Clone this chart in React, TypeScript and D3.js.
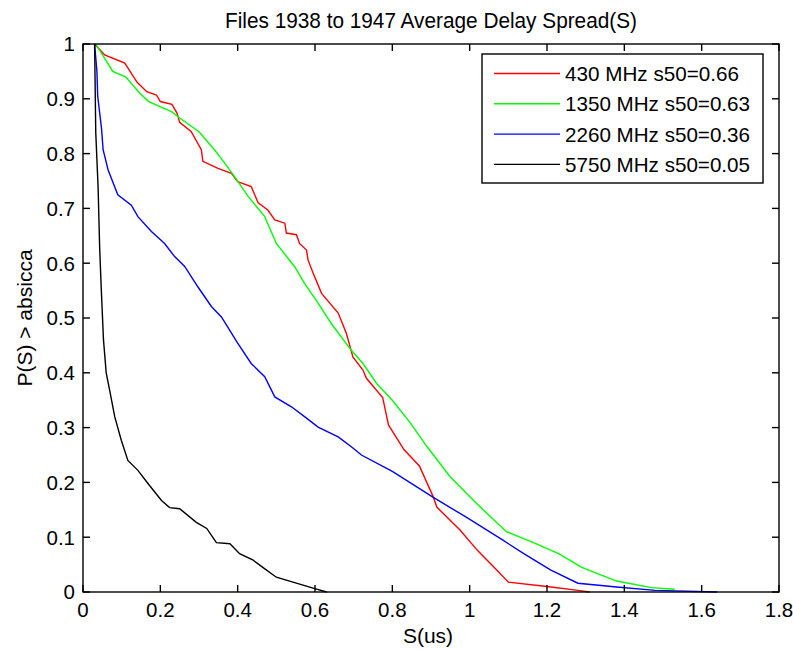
import React from "react";
import * as d3 from "d3";

const seriesNames = ["430 MHz s50=0.66", "1350 MHz s50=0.63", "2260 MHz s50=0.36", "5750 MHz s50=0.05"];
const seriesColors = ["#ff0000", "#00ff00", "#0000ff", "#000000"];

const red430: [number, number][] = [
  [0.03, 1], [0.056, 0.98], [0.108, 0.965], [0.14, 0.93], [0.165, 0.913], [0.19, 0.907], [0.2, 0.895],
  [0.23, 0.89], [0.243, 0.874], [0.25, 0.857], [0.28, 0.84], [0.306, 0.807], [0.31, 0.786], [0.349, 0.773],
  [0.384, 0.764], [0.4, 0.749], [0.435, 0.74], [0.453, 0.71], [0.478, 0.697], [0.496, 0.679], [0.522, 0.673],
  [0.526, 0.655], [0.552, 0.652], [0.56, 0.636], [0.578, 0.624], [0.582, 0.606], [0.595, 0.582],
  [0.617, 0.545], [0.66, 0.509], [0.681, 0.472], [0.698, 0.429], [0.724, 0.405], [0.733, 0.39],
  [0.775, 0.355], [0.79, 0.305], [0.83, 0.26], [0.87, 0.23], [0.905, 0.175], [0.915, 0.155],
  [0.975, 0.113], [1.02, 0.076], [1.07, 0.04], [1.1, 0.018], [1.2, 0.01], [1.28, 0.003], [1.31, 0],
];

const green1350: [number, number][] = [
  [0.033, 1], [0.077, 0.95], [0.11, 0.94], [0.147, 0.91], [0.17, 0.895], [0.23, 0.876], [0.25, 0.865],
  [0.3, 0.84], [0.34, 0.807], [0.366, 0.783], [0.392, 0.758], [0.427, 0.722], [0.47, 0.685], [0.5, 0.636],
  [0.547, 0.594], [0.573, 0.563], [0.608, 0.527], [0.642, 0.49], [0.694, 0.441], [0.724, 0.417],
  [0.76, 0.38], [0.8, 0.35], [0.845, 0.31], [0.89, 0.265], [0.95, 0.21], [1.02, 0.16], [1.095, 0.11],
  [1.165, 0.09], [1.23, 0.07], [1.29, 0.045], [1.38, 0.02], [1.47, 0.008], [1.53, 0.005],
];

const blue2260: [number, number][] = [
  [0.03, 1], [0.036, 0.95], [0.038, 0.905], [0.048, 0.845], [0.052, 0.807], [0.065, 0.77], [0.09, 0.725],
  [0.125, 0.706], [0.142, 0.685], [0.177, 0.658], [0.211, 0.636], [0.237, 0.612], [0.263, 0.594],
  [0.297, 0.557], [0.332, 0.521], [0.358, 0.502], [0.4, 0.454], [0.435, 0.417], [0.47, 0.393],
  [0.496, 0.356], [0.539, 0.338], [0.573, 0.32], [0.608, 0.301], [0.66, 0.283], [0.694, 0.265],
  [0.72, 0.25], [0.8, 0.22], [0.905, 0.173], [0.99, 0.137], [1.085, 0.095], [1.14, 0.07], [1.21, 0.04],
  [1.28, 0.016], [1.38, 0.009], [1.48, 0.003], [1.64, 0],
];

const black5750: [number, number][] = [
  [0.03, 1], [0.033, 0.838], [0.039, 0.74], [0.043, 0.63], [0.047, 0.557], [0.053, 0.46], [0.06, 0.4],
  [0.069, 0.368], [0.082, 0.32], [0.099, 0.277], [0.116, 0.24], [0.142, 0.222], [0.168, 0.198],
  [0.203, 0.167], [0.224, 0.154], [0.25, 0.152], [0.293, 0.127], [0.32, 0.116], [0.345, 0.09],
  [0.38, 0.088], [0.405, 0.07], [0.44, 0.058], [0.465, 0.045], [0.5, 0.027], [0.543, 0.018],
  [0.595, 0.007], [0.63, 0],
];

const allSeries = [red430, green1350, blue2260, black5750];
const xTicks = [0, 0.2, 0.4, 0.6, 0.8, 1, 1.2, 1.4, 1.6, 1.8];
const yTicks = [0, 0.1, 0.2, 0.3, 0.4, 0.5, 0.6, 0.7, 0.8, 0.9, 1];
const titleText = "Files 1938 to 1947 Average Delay Spread(S)";
const xLabel = "S(us)";
const yLabel = "P(S) > absicca";

export default function App() {
  const W = 793, H = 650;
  const L = 83, R = 779, T = 44, B = 592;
  const x = d3.scaleLinear().domain([0, 1.8]).range([L, R]);
  const y = d3.scaleLinear().domain([0, 1]).range([B, T]);
  const line = d3.line<[number, number]>().x((d) => x(d[0])).y((d) => y(d[1]));
  const font = "'Liberation Sans', Arial, Helvetica, sans-serif";
  const fs = 20.5;
  const tl = 7;
  const fmt = (v: number) => String(v);
  const legX = 482, legY = 54, legW = 281, legH = 129;
  return (
    <svg width={W} height={H} style={{ position: "absolute", left: 0, top: 0, background: "#fff" }} fontFamily={font}>
      <rect x={0} y={0} width={W} height={H} fill="#fff" />
      <rect x={L} y={T} width={R - L} height={B - T} fill="#fff" />
      {allSeries.map((s, i) => (
        <path key={i} d={line(s) || ""} fill="none" stroke={seriesColors[i]} strokeWidth={1.4} />
      ))}
      <rect x={L} y={T} width={R - L} height={B - T} fill="none" stroke="#000" strokeWidth={1.4} />
      {xTicks.map((t) => (
        <g key={"x" + t}>
          <line x1={x(t)} x2={x(t)} y1={B} y2={B - tl} stroke="#000" strokeWidth={1.4} />
          <line x1={x(t)} x2={x(t)} y1={T} y2={T + tl} stroke="#000" strokeWidth={1.4} />
          <text x={x(t)} y={617} textAnchor="middle" fontSize={fs} fill="#000">{fmt(t)}</text>
        </g>
      ))}
      {yTicks.map((t) => (
        <g key={"y" + t}>
          <line x1={L} x2={L + tl} y1={y(t)} y2={y(t)} stroke="#000" strokeWidth={1.4} />
          <line x1={R} x2={R - tl} y1={y(t)} y2={y(t)} stroke="#000" strokeWidth={1.4} />
          <text x={75} y={y(t) + 7.3} textAnchor="end" fontSize={fs} fill="#000">{fmt(t)}</text>
        </g>
      ))}
      <text x={(L + R) / 2} y={28} textAnchor="middle" fontSize={21.5} textLength={412} lengthAdjust="spacingAndGlyphs" fill="#000">{titleText}</text>
      <text x={(L + R) / 2 - 3} y={643} textAnchor="middle" fontSize={21} fill="#000">{xLabel}</text>
      <text transform={`translate(31.5,${(T + B) / 2}) rotate(-90)`} textAnchor="middle" fontSize={21} fill="#000">{yLabel}</text>
      <rect x={legX} y={legY} width={legW} height={legH} fill="#fff" stroke="#000" strokeWidth={1.4} />
      {seriesNames.map((n, i) => {
        const cy = 73.5 + i * 30.3;
        return (
          <g key={n}>
            <line x1={494} x2={560} y1={cy} y2={cy} stroke={seriesColors[i]} strokeWidth={1.4} />
            <text x={565} y={cy + 7.5} fontSize={21} textLength={n.length > 16 ? 185 : 174} lengthAdjust="spacingAndGlyphs" fill="#000">{n}</text>
          </g>
        );
      })}
    </svg>
  );
}
